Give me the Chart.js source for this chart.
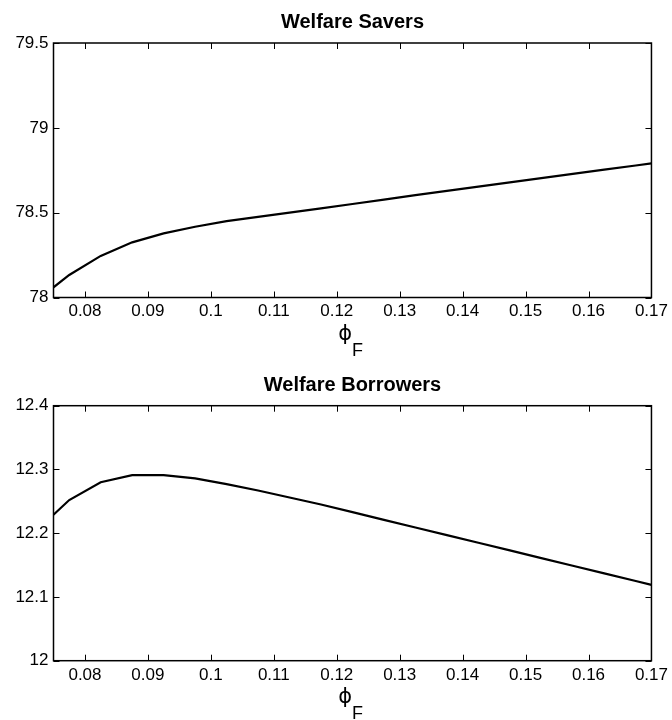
<!DOCTYPE html>
<html>
<head>
<meta charset="utf-8">
<title>Welfare</title>
<script src="https://cdn.jsdelivr.net/npm/chart.js@4"></script>
<style>
  html, body { margin: 0; padding: 0; background: #fff; }
  #wrap { position: relative; width: 672px; height: 720px; }
  canvas { position: absolute; left: 0; }
</style>
</head>
<body>
<div id="wrap">
  <canvas id="saversChart" width="672" height="360" style="top:0"></canvas>
  <canvas id="borrowersChart" width="672" height="360" style="top:360px"></canvas>
</div>
<script>
// phi_F grid
const phiF = [0.075, 0.0775, 0.0825, 0.0875, 0.0925, 0.0975, 0.1025, 0.1075, 0.1125,
              0.1175, 0.1225, 0.1275, 0.1325, 0.1375, 0.1425, 0.1475, 0.1525, 0.1575,
              0.1625, 0.1675, 0.17];

const welfareSavers = [78.06, 78.133, 78.245, 78.325, 78.378, 78.417, 78.45, 78.475, 78.50,
                       78.525, 78.551, 78.577, 78.603, 78.628, 78.654, 78.679, 78.704, 78.729,
                       78.754, 78.778, 78.79];

const welfareBorrowers = [12.229, 12.252, 12.280, 12.291, 12.291, 12.286, 12.277, 12.267, 12.256,
                          12.245, 12.233, 12.221, 12.209, 12.197, 12.185, 12.173, 12.161, 12.149,
                          12.137, 12.125, 12.119];

const xTicks = [0.08, 0.09, 0.1, 0.11, 0.12, 0.13, 0.14, 0.15, 0.16, 0.17];
const saversTicks = [78, 78.5, 79, 79.5];
const borrowersTicks = [12, 12.1, 12.2, 12.3, 12.4];

const FONT = '"Liberation Sans", Arial, Helvetica, sans-serif';

// box, inward ticks, title and x label, matlab style
const framePlugin = {
  id: 'frame',
  afterDraw(chart, args, opts) {
    const { ctx, chartArea: a, scales } = chart;
    ctx.save();
    ctx.strokeStyle = '#000';
    ctx.lineWidth = 1;
    const tl = 6;
    ctx.beginPath();
    scales.x.ticks.forEach(t => {
      const px = Math.round(scales.x.getPixelForValue(t.value)) + 0.5;
      ctx.moveTo(px, a.bottom); ctx.lineTo(px, a.bottom - tl);
      ctx.moveTo(px, a.top); ctx.lineTo(px, a.top + tl);
    });
    scales.y.ticks.forEach(t => {
      const py = Math.round(scales.y.getPixelForValue(t.value)) + 0.5;
      ctx.moveTo(a.left, py); ctx.lineTo(a.left + tl, py);
      ctx.moveTo(a.right, py); ctx.lineTo(a.right - tl, py);
    });
    ctx.stroke();
    ctx.lineWidth = 1.5;
    ctx.strokeRect(a.left, a.top, a.right - a.left, a.bottom - a.top);

    ctx.fillStyle = '#000';
    ctx.textAlign = 'center';
    ctx.textBaseline = 'alphabetic';
    ctx.font = 'bold 20px ' + FONT;
    ctx.fillText(opts.title, (a.left + a.right) / 2, a.top - 15);

    // phi with subscript F
    const cx = (a.left + a.right) / 2;
    ctx.font = '21px "DejaVu Sans", ' + FONT;
    ctx.textAlign = 'right';
    ctx.fillText('ϕ', cx - 0.5, a.bottom + 42);
    ctx.font = '18px ' + FONT;
    ctx.textAlign = 'left';
    ctx.fillText('F', cx - 0.5, a.bottom + 58);
    ctx.restore();
  }
};

function makePanel(canvasId, values, yTicks, title, padTop, axisHeight) {
  const ctx = document.getElementById(canvasId).getContext('2d');
  return new Chart(ctx, {
    type: 'line',
    data: {
      datasets: [{
        data: phiF.map((x, i) => ({ x: x, y: values[i] })),
        borderColor: '#000',
        borderWidth: 2.2,
        pointRadius: 0,
        tension: 0,
        fill: false
      }]
    },
    options: {
      responsive: false,
      animation: false,
      events: [],
      layout: { padding: { left: 0, right: 17.5, top: padTop, bottom: 0 } },
      scales: {
        x: {
          type: 'linear',
          min: 0.075,
          max: 0.17,
          afterBuildTicks: s => { s.ticks = xTicks.map(v => ({ value: v })); },
          afterFit: s => { s.height = axisHeight; },
          grid: { display: false, drawTicks: false },
          border: { display: false },
          ticks: {
            color: '#000',
            padding: 4,
            maxRotation: 0,
            autoSkip: false,
            font: { family: FONT, size: 17 },
            callback: v => String(v)
          }
        },
        y: {
          min: yTicks[0],
          max: yTicks[yTicks.length - 1],
          afterBuildTicks: s => { s.ticks = yTicks.map(v => ({ value: v })); },
          afterFit: s => { s.width = 53.5; },
          grid: { display: false, drawTicks: false },
          border: { display: false },
          ticks: {
            color: '#000',
            padding: 5,
            autoSkip: false,
            font: { family: FONT, size: 17 },
            callback: v => String(v)
          }
        }
      },
      plugins: {
        legend: { display: false },
        tooltip: { enabled: false },
        frame: { title: title }
      }
    },
    plugins: [framePlugin]
  });
}

makePanel('saversChart', welfareSavers, saversTicks, 'Welfare Savers', 43, 62.5);
makePanel('borrowersChart', welfareBorrowers, borrowersTicks, 'Welfare Borrowers', 45.7, 59.3);
</script>
</body>
</html>
